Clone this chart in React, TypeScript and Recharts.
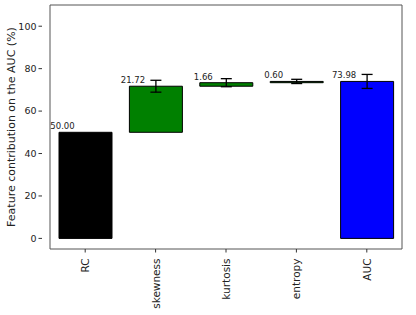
import { BarChart, Bar, XAxis, YAxis, ErrorBar, Cell, LabelList, ReferenceArea } from "recharts";

const features = ["RC", "skewness", "kurtosis", "entropy", "AUC"];
const contributions = [50.0, 21.72, 1.66, 0.6, 73.98];
const errors = [0, 2.8, 1.9, 1.0, 3.3];
const colors = ["#000000", "#008000", "#008000", "#008000", "#0000ff"];
const yTicks = [0, 20, 40, 60, 80, 100];

// waterfall: each feature starts where the previous one ended, RC and AUC start at 0
let running = 0;
const data = features.map((name, i) => {
  const isTotal = i === 0 || i === features.length - 1;
  const start = isTotal ? 0 : running;
  const end = start + contributions[i];
  running = isTotal && i > 0 ? running : end;
  return { name, range: [start, end], delta: contributions[i], err: errors[i] };
});

const font = "DejaVu Sans, sans-serif";

function XTick({ x, y, payload }: any) {
  return (
    <text
      x={x}
      y={y + 4}
      transform={`rotate(-90, ${x}, ${y + 4})`}
      textAnchor="end"
      dominantBaseline="central"
      fontSize={10.5}
      fontFamily={font}
      fill="#222"
    >
      {payload.value}
    </text>
  );
}

function ValueLabel({ x, y, width, value }: any) {
  return (
    <text
      x={x + width / 2 - 23}
      y={y - 3}
      textAnchor="middle"
      fontSize={8.5}
      fontFamily={font}
      fill="#222"
    >
      {Number(value).toFixed(2)}
    </text>
  );
}

export default function App() {
  return (
    <div style={{ position: "absolute", left: 0, top: 0, background: "#fff" }}>
      <BarChart
        width={416}
        height={315}
        data={data}
        margin={{ top: 5, right: 6, bottom: 0, left: 0 }}
      >
        <XAxis
          dataKey="name"
          padding={{ left: 8, right: 8 }}
          tick={<XTick />}
          tickSize={3.5}
          tickMargin={2}
          tickLine={{ stroke: "#333" }}
          axisLine={false}
          height={66}
          interval={0}
        />
        <YAxis
          domain={[-5, 110]}
          ticks={yTicks}
          allowDataOverflow
          width={42}
          tickSize={3.5}
          tickMargin={2}
          tick={{ fontSize: 9.5, fontFamily: font, fill: "#222" }}
          tickLine={{ stroke: "#333" }}
          axisLine={false}
          label={{
            value: "Feature contribution on the AUC (%)",
            angle: -90,
            position: "center",
            dx: -10,
            style: { fontSize: 11, fontFamily: font, fill: "#222" },
          }}
        />
        <ReferenceArea y1={-5} y2={110} fill="none" stroke="#555" strokeWidth={1} ifOverflow="visible" />
        <Bar dataKey="range" barSize={53} stroke="#000" strokeWidth={1} isAnimationActive={false}>
          {data.map((d, i) => (
            <Cell key={d.name} fill={colors[i]} />
          ))}
          <ErrorBar dataKey="err" width={5.5} stroke="#000" strokeWidth={1.3} direction="y" />
          <LabelList dataKey="delta" content={<ValueLabel />} />
        </Bar>
      </BarChart>
    </div>
  );
}
